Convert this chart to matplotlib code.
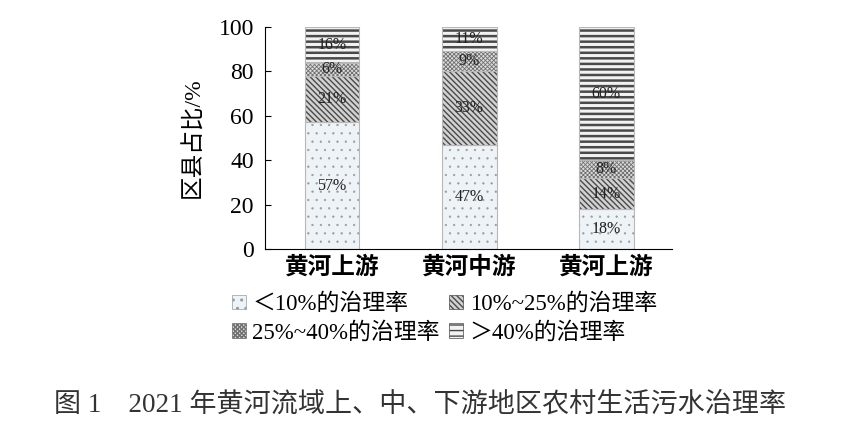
import matplotlib
matplotlib.use('Agg')
import matplotlib.pyplot as plt
from matplotlib.patches import Patch

plt.rcParams['font.family'] = ['Liberation Serif', 'Noto Sans CJK SC']

regions = ['黄河上游', '黄河中游', '黄河上游']
series_names = ['＜10%的治理率', '10%~25%的治理率', '25%~40%的治理率', '＞40%的治理率']
lt10 = [57, 47, 18]
r10_25 = [21, 33, 14]
r25_40 = [6, 9, 8]
gt40 = [16, 11, 60]

series = [lt10, r10_25, r25_40, gt40]
faces = ['#eef3f8', '#d2d2d2', '#dcdcdc', '#f2f2f2']
hatch_cols = ['#9a9a9a', '#4a4a4a', '#707070', '#4a4a4a']
hatches = ['..', '\\\\\\\\\\\\', 'xxxxxxxx', '---']
hatch_lw = [0.4, 1.0, 0.6, 1.8]


def set_hlw(artist, lw):
    if hasattr(artist, 'set_hatch_linewidth'):
        artist.set_hatch_linewidth(lw)


fig = plt.figure(figsize=(8.41, 4.26), dpi=100)
ax = fig.add_axes([0.315, 0.4155, 0.484, 0.521])

x = list(range(len(regions)))
bottom = [0, 0, 0]
for vals, fc, hc, h, hl in zip(series, faces, hatch_cols, hatches, hatch_lw):
    with plt.rc_context({'hatch.linewidth': hl}):
        bars = ax.bar(x, vals, 0.4, bottom=bottom, color=fc, edgecolor=hc, hatch=h, linewidth=0)
    for b in bars:
        set_hlw(b, hl)
    ax.bar(x, vals, 0.4, bottom=bottom, fill=False, edgecolor='#b8b8b8', linewidth=0.8)
    for xi, v, b in zip(x, vals, bottom):
        ax.text(xi, b + v / 2, f'{v}%', ha='center', va='center', fontsize=11.5, color='#222222')
    bottom = [b + v for b, v in zip(bottom, vals)]

ax.set_xlim(-0.49, 2.48)
ax.set_ylim(0, 100)
ax.set_yticks(range(0, 101, 20))
ax.set_xticks(x)
ax.set_xticklabels(regions, fontsize=17, fontweight='bold')
ax.tick_params(axis='y', direction='in', length=4, labelsize=17, pad=8)
ax.tick_params(axis='x', length=0, pad=5)
ax.spines['top'].set_visible(False)
ax.spines['right'].set_visible(False)
ax.set_ylabel('区县占比/%', fontsize=17, labelpad=10)

handles = []
for fc, hc, h, hl in zip(faces, hatch_cols, hatches, hatch_lw):
    with plt.rc_context({'hatch.linewidth': min(hl, 0.8)}):
        p = Patch(facecolor=fc, edgecolor=hc, hatch=h, linewidth=0.5)
    set_hlw(p, min(hl, 0.8))
    handles.append(p)
order = [0, 2, 1, 3]
fig.legend([handles[i] for i in order], [series_names[i] for i in order], ncol=2,
           loc='upper left', bbox_to_anchor=(0.262, 0.338), frameon=False, fontsize=16.5,
           handlelength=0.6, handleheight=0.6, handletextpad=0.3, columnspacing=0.4,
           labelspacing=0.3, borderpad=0)

fig.text(0.5, 0.049, '图 1    2021 年黄河流域上、中、下游地区农村生活污水治理率',
         ha='center', va='center', fontsize=19.5, color='#333333')

fig.savefig('out.png', dpi=100)
